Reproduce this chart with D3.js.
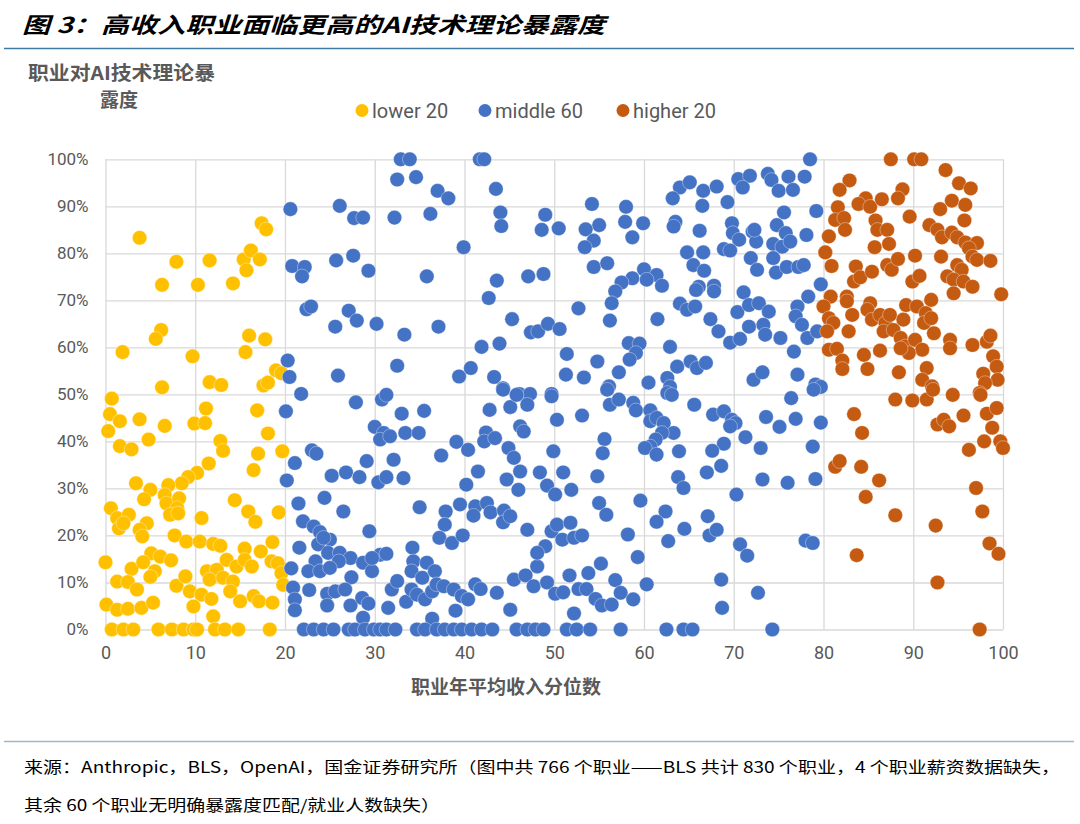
<!DOCTYPE html>
<html>
<head>
<meta charset="utf-8">
<script src="https://cdn.jsdelivr.net/npm/d3@7/dist/d3.min.js"></script>
<style>
  body { margin: 0; background: #fff; }
  svg { display: block; }
</style>
</head>
<body>
<svg id="chart" width="1080" height="824"></svg>
<script>
// income percentile, exposure (%)
var lower20 = [
  [3.8,83.3],[17.4,86.4],[17.9,85.1],[7.9,78.2],[11.6,78.5],[15.4,78.7],[16.2,80.6],[17.2,78.7],[15.7,76.4],
  [6.3,73.3],[10.3,73.3],[14.2,73.6],[6.2,63.7],[5.6,61.8],[1.9,59.0],[9.7,58.1],[16.0,62.5],[17.8,61.7],
  [15.6,59.0],[19.0,55.1],[19.6,54.5],[6.3,51.5],[11.6,52.6],[12.9,52.0],[17.6,51.9],[18.1,52.5],[0.7,49.1],
  [0.5,45.8],[1.6,44.3],[0.3,42.2],[3.8,44.7],[6.6,43.3],[11.2,47.0],[9.9,43.8],[11.1,43.9],[4.8,40.4],
  [1.6,39.0],[2.9,38.3],[12.8,40.1],[13.1,38.0],[16.9,46.6],[18.1,41.7],[17.0,37.4],[19.7,37.9],[16.5,33.9],
  [11.5,35.3],[10.2,33.3],[9.2,32.4],[8.5,31.1],[7.0,30.7],[3.4,31.1],[5.0,29.7],[4.3,27.7],[6.6,28.6],
  [6.8,26.8],[8.2,27.9],[8.0,25.8],[7.2,24.4],[8.1,24.7],[14.4,27.5],[0.6,25.8],[1.3,23.7],[2.6,24.4],
  [1.5,21.5],[2.0,22.6],[4.6,22.6],[3.8,21.2],[4.1,19.8],[10.7,23.7],[15.9,25.1],[16.7,22.9],[19.3,24.9],
  [7.7,20.0],[9.0,18.7],[10.5,18.7],[12.0,18.2],[12.8,17.8],[15.5,17.2],[17.3,16.6],[18.6,18.6],[0.0,14.3],
  [2.9,12.9],[5.1,16.2],[6.1,15.5],[4.2,14.3],[7.3,14.7],[5.5,12.4],[5.0,11.2],[11.3,12.4],[12.4,12.7],
  [13.5,14.8],[14.6,13.4],[15.5,14.8],[16.3,13.4],[11.6,10.6],[13.1,11.0],[14.2,10.2],[18.5,14.5],[19.2,14.1],
  [19.6,12.0],[19.8,9.5],[1.3,10.2],[2.5,10.1],[3.5,8.5],[7.9,9.3],[8.9,11.3],[9.4,8.1],[10.7,7.4],
  [11.8,6.5],[9.8,4.9],[13.9,8.1],[15.0,6.0],[16.5,7.1],[17.1,6.0],[18.6,5.7],[0.1,5.3],[1.3,4.2],
  [2.5,4.4],[4.0,4.6],[5.3,5.7],[12.0,2.8],
  [0.7,0],[2.0,0],[3.1,0],[5.9,0],[7.4,0],[8.7,0],[9.8,0],[10.2,0],[12.2,0],[13.3,0],[14.8,0],[18.3,0]
];

var middle60 = [
  [32.9,100],[33.9,100],[41.7,100],[42.2,100],[32.5,95.7],[34.6,96.2],[37.0,93.3],[38.2,91.7],[43.5,93.7],
  [20.6,89.4],[26.1,90.1],[27.7,87.5],[28.7,87.6],[32.2,87.6],[36.2,88.4],[44.0,88.7],[44.1,85.8],[49.0,88.2],
  [48.6,85.0],[50.5,85.3],[39.9,81.3],[20.8,77.3],[22.2,77.1],[21.9,75.1],[25.7,78.5],[27.6,79.5],[29.3,76.3],
  [35.8,75.1],[43.6,74.2],[42.7,70.5],[47.1,75.1],[48.8,75.6],[22.4,68.1],[22.9,68.7],[27.1,67.8],[28.0,65.7],
  [25.6,64.4],[30.2,65.0],[33.3,62.7],[37.1,64.4],[45.3,66.0],[47.4,63.2],[48.2,63.4],[49.3,65.0],[50.6,63.9],
  [41.9,60.1],[43.9,60.8],[20.3,57.2],[20.5,53.7],[25.9,54.0],[32.5,56.1],[39.4,53.8],[40.7,55.6],[43.3,53.7],
  [44.3,51.3],[46.1,50.1],[47.3,50.1],[49.7,50.1],[21.8,50.1],
  [27.9,48.3],[30.8,48.9],[31.3,49.9],[20.1,46.4],[33.0,45.9],[35.5,46.5],[30.0,43.1],[31.0,41.8],[30.6,40.4],
  [31.7,41.1],[33.4,41.8],[34.9,41.8],[21.1,35.4],[20.2,31.7],[23.0,38.1],[23.5,37.4],[25.2,32.7],[26.8,33.4],
  [28.3,32.4],[29.1,35.8],[32.1,36.1],[30.4,31.3],[31.3,32.4],[33.2,32.2],[37.4,37.0],[39.1,39.9],[40.4,38.2],
  [42.4,41.9],[42.2,40.0],[43.4,40.7],[42.8,46.7],[45.1,47.3],[44.3,51.0],[45.8,49.9],[47.0,47.8],[46.2,43.2],
  [46.6,42.1],[49.7,49.6],[50.3,44.6],[49.9,37.9],[44.9,38.6],[45.5,36.5],[41.5,33.6],[40.2,30.8],[44.7,31.9],
  [46.0,29.7],[46.2,33.6],[48.4,33.4],[49.2,30.6],[50.1,28.7],[21.5,26.8],[24.4,28.0],[26.5,25.1],[35.0,26.0],
  [37.9,25.1],[37.8,22.3],[39.5,26.6],[41.2,26.2],[42.5,26.9],[41.0,24.2],[42.9,24.9],[44.4,25.3],[44.3,22.8],
  [45.1,24.1],[47.0,21.2],[49.7,20.9],[50.3,22.3],[22.0,23.0],[23.2,21.9],[23.9,20.7],[25.0,19.1],[23.7,18.1],
  [24.3,19.5],[29.4,20.9],[21.6,17.4],[37.2,19.5],[38.6,18.4],[39.8,20.0],[24.8,16.3],[26.1,16.3],[27.3,15.2],
  [26.0,14.5],[23.4,14.5],[22.6,12.4],[23.9,12.4],[25.0,13.1],[20.7,13.0],[28.7,14.2],[29.7,12.4],[30.6,15.9],
  [31.3,16.1],[29.7,15.2],[27.4,11.1],[34.2,17.4],[34.3,14.5],[34.1,12.4],[35.3,11.0],[35.8,14.2],[36.7,12.4],
  [20.9,8.9],[21.1,6.4],[21.1,4.1],[22.7,8.4],[24.7,7.6],[25.6,8.1],[26.7,8.5],[24.7,5.1],[27.3,5.1],
  [28.6,6.7],[29.3,5.5],[28.7,2.5],[31.5,4.6],[31.9,8.5],[32.5,10.3],[33.5,5.9],[34.1,8.5],[34.7,7.4],
  [35.6,6.4],[36.4,8.1],[36.9,9.6],[37.7,9.2],[38.8,8.5],[39.7,7.1],[40.4,6.4],[41.2,9.6],[41.8,8.6],
  [43.6,7.8],[39.0,4.0],[36.4,2.3],[45.1,4.2],[45.5,10.6],[46.8,11.5],[47.7,9.2],[49.2,10.0],[50.1,7.6],
  [48.1,13.4],[49.0,17.7],[48.1,16.3],
  [22.1,0],[23.2,0],[24.3,0],[25.4,0],[27.1,0],[27.8,0],[28.9,0],[29.9,0],[30.6,0],[31.3,0],[32.3,0],[34.7,0],
  [35.6,0],[36.9,0],[37.8,0],[38.8,0],[39.7,0],[40.8,0],[41.9,0],[43.1,0],[45.8,0],[47.0,0],[47.9,0],[48.8,0],
  [78.5,100],[70.5,95.8],[71.8,96.5],[71.0,94.0],[73.8,96.9],[74.2,95.6],[75.0,93.3],[76.1,96.3],[76.6,93.5],
  [77.9,96.3],[64.0,94.0],[65.1,95.1],[63.2,91.7],[66.6,93.3],[68.1,94.2],[66.5,90.1],[69.3,90.9],[54.2,90.5],
  [58.0,89.9],[57.9,86.7],[59.9,86.4],[58.7,83.4],[55.0,86.0],[53.5,85.1],[54.4,82.7],[53.4,81.3],[75.6,88.7],
  [79.2,89.0],[63.5,86.7],[63.3,85.7],[66.2,84.8],[69.8,86.4],[69.9,84.3],[70.6,82.9],[68.9,80.9],[69.6,80.6],
  [72.1,84.6],[72.5,82.5],[72.3,85.0],[74.8,86.0],[75.8,84.3],[74.4,82.0],[75.4,81.4],[76.3,82.5],[78.1,83.9],
  [64.8,80.2],[66.6,80.2],[65.5,77.5],[66.7,76.3],[54.4,77.1],[55.9,77.9],[71.9,79.0],[72.6,76.5],[74.4,79.0],
  [74.7,75.9],[75.9,77.1],[77.2,77.1],[77.8,77.5],[60.0,76.6],[58.7,74.7],[57.5,73.8],[56.8,71.9],[56.4,69.4],
  [61.4,75.4],[62.0,73.1],[60.3,74.4],[66.1,72.9],[65.8,72.2],[67.8,73.1],[67.8,71.9],[79.7,73.4],[71.1,71.7],
  [52.7,68.3],[56.2,65.7],[61.5,66.0],[64.0,69.3],[64.8,68.0],[65.7,68.7],[67.4,66.0],[68.3,63.4],[69.6,61.0],
  [70.7,61.8],[70.4,67.5],[71.7,69.0],[72.8,69.4],[73.9,67.6],[71.7,64.4],[73.3,64.8],[73.5,62.7],[75.2,62.0],
  [77.1,68.7],[76.9,66.6],[77.6,64.8],[78.3,70.8],[78.2,62.0],[79.3,63.4],[76.7,59.1],[77.1,54.2],[79.1,52.1],
  [79.7,51.6],[72.2,53.1],[73.2,54.7],[51.4,58.6],[51.3,54.2],[53.3,53.6],[54.8,57.0],[56.1,51.7],[57.2,54.7],
  [58.3,60.9],[59.5,60.8],[59.1,58.8],[58.4,57.4],[62.9,60.1],[60.5,52.5],[63.7,55.9],[65.2,57.0],[65.9,55.6],
  [66.9,56.7],[62.6,53.5],[62.9,51.6],
  [53.1,45.5],[55.9,51.0],[56.2,47.8],[57.2,48.9],[58.8,48.2],[59.1,46.6],[60.7,46.6],[60.7,44.3],[61.4,45.0],
  [62.2,43.9],[63.3,41.8],[62.0,41.8],[61.3,40.4],[60.7,38.9],[60.1,38.6],[61.4,37.2],[62.6,50.3],[63.1,49.9],
  [65.6,47.8],[67.7,45.7],[68.9,46.4],[69.8,44.6],[70.2,43.9],[69.6,43.2],[71.3,40.9],[73.6,45.2],[75.1,43.1],
  [76.9,44.8],[76.4,49.2],[79.7,44.0],[78.9,51.0],[73.0,38.6],[78.8,38.9],[68.9,39.5],[67.6,38.0],[68.6,34.8],
  [67.0,33.4],[63.9,37.9],[55.6,40.5],[55.4,37.5],[51.0,33.4],[51.9,29.7],[54.8,32.6],[63.8,32.4],[64.4,30.1],
  [73.2,31.9],[76.0,31.2],[79.1,32.0],[70.3,28.7],[59.6,27.4],[55.0,26.9],[55.8,24.4],[62.4,25.1],[61.4,22.9],
  [64.5,21.4],[67.1,24.1],[67.3,20.0],[68.1,21.2],[62.7,18.8],[58.2,20.2],[59.3,15.4],[51.8,22.7],[50.9,19.1],
  [52.2,19.5],[53.1,20.0],[55.2,14.0],[53.8,12.0],[51.7,11.5],[56.8,10.5],[57.4,7.8],[58.8,6.4],[60.3,9.6],
  [52.7,8.6],[53.6,8.6],[51.0,7.9],[54.6,6.5],[55.3,5.1],[56.4,5.3],[52.2,3.4],[68.6,10.6],[68.7,4.6],
  [72.7,7.8],[70.7,18.1],[71.5,15.7],[78.0,18.9],[78.8,18.4],
  [51.4,0],[52.5,0],[54.0,0],[57.4,0],[62.5,0],[64.4,0],[65.4,0],[74.3,0]
];

var higher20 = [
  [87.5,100],[90.1,100],[90.9,100],[93.6,97.7],[82.9,95.5],[81.8,93.5],[95.1,94.9],[96.4,93.8],[88.8,93.6],
  [88.3,91.7],[84.7,91.7],[83.9,90.5],[85.2,89.9],[86.5,91.5],[94.3,91.2],[95.8,90.3],[93.0,89.4],[81.6,89.8],
  [81.3,87.1],[82.3,87.5],[82.4,85.0],[80.6,83.6],[89.6,87.8],[85.8,87.0],[86.0,85.0],[87.1,85.0],[87.3,82.0],
  [85.7,81.3],[95.7,87.0],[91.8,86.0],[92.7,85.0],[93.2,83.4],[94.3,84.4],[94.9,83.4],[95.8,82.3],[97.1,82.2],
  [96.2,81.1],[80.2,80.2],[80.9,77.3],[90.2,79.5],[93.1,79.3],[96.6,79.3],[97.1,78.6],[98.6,78.4],[87.1,77.5],
  [87.6,76.5],[88.3,78.8],[83.6,77.2],[83.4,74.0],[84.1,74.9],[85.4,76.1],[89.9,74.0],[90.7,75.2],[93.8,75.1],
  [94.9,77.5],[95.4,76.5],[94.5,74.4],[95.6,74.0],[96.6,72.9],[94.5,71.5],[99.8,71.3],[80.8,70.8],[82.6,70.8],
  [82.6,69.8],[85.2,69.4],[84.9,68.0],[80.0,68.7],[80.6,66.2],[81.1,65.2],[80.4,63.4],[83.2,66.9],[82.8,63.4],
  [85.4,65.9],[86.3,66.9],[86.9,65.2],[87.4,66.9],[86.7,63.4],[87.8,63.7],[88.9,65.9],[89.2,69.0],[90.4,68.7],
  [91.4,67.3],[91.2,65.2],[92.0,66.2],[92.0,70.1],[92.3,63.0],[88.6,62.0],[89.1,60.2],[90.2,61.6],[91.0,59.5],
  [89.5,58.8],[88.6,59.8],[94.1,61.6],[94.1,59.8],[96.6,60.5],[98.2,61.2],[98.6,62.5],[80.6,59.5],[81.5,59.7],
  [82.1,57.2],[82.1,55.4],[84.5,58.4],[84.9,55.4],[86.3,59.3],[88.4,54.7],[91.5,55.6],[91.0,53.1],[92.1,51.7],
  [98.9,58.1],[99.3,55.9],[97.8,54.4],[99.4,53.1],[98.0,52.4],[97.4,50.3],
  [88.0,48.9],[89.9,48.7],[91.5,48.9],[92.2,51.0],[94.4,49.9],[97.5,49.9],[83.4,45.8],[84.3,41.8],[92.7,43.6],
  [93.4,44.6],[94.0,43.2],[95.6,45.5],[98.2,45.9],[99.3,47.1],[98.8,42.9],[97.9,40.0],[96.2,38.2],[99.7,40.0],
  [100.0,38.6],[81.3,34.6],[81.8,35.8],[84.2,34.6],[86.2,31.7],[84.7,28.2],[88.0,24.3],[92.5,22.1],[97.0,30.1],
  [97.7,25.1],[98.5,18.3],[99.5,16.1],[83.7,15.8],[92.7,10.0],[97.4,0]
];

var seriesNames = ["lower 20", "middle 60", "higher 20"];
var seriesColors = ["#FFC000", "#4472C4", "#C55A11"];
var xTicks = [0, 10, 20, 30, 40, 50, 60, 70, 80, 90, 100];
var yTicks = [0, 0.1, 0.2, 0.3, 0.4, 0.5, 0.6, 0.7, 0.8, 0.9, 1];

var svg = d3.select("#chart");
var plotLeft = 105.5, plotRight = 1003, plotTop = 159.3, plotBottom = 629.5;
var numFont = "Roboto, 'Noto Sans', 'Noto Sans CJK SC', sans-serif";
var cjkFont = "'Noto Sans CJK SC', sans-serif";

var x = d3.scaleLinear().domain([0, 100]).range([plotLeft, plotRight]);
var y = d3.scaleLinear().domain([0, 1]).range([plotBottom, plotTop]);

// title
svg.append("text")
    .attr("x", 22)
    .attr("y", 33)
    .attr("font-family", cjkFont)
    .attr("font-size", 22)
    .attr("font-weight", 700)
    .attr("font-style", "italic")
    .attr("fill", "#000")
    .attr("textLength", 583)
    .attr("lengthAdjust", "spacingAndGlyphs")
    .text("图 3：高收入职业面临更高的AI技术理论暴露度");

svg.append("line")
    .attr("x1", 4).attr("x2", 1074)
    .attr("y1", 48.5).attr("y2", 48.5)
    .attr("stroke", "#3f7aa6")
    .attr("stroke-width", 1.5);

// gridlines
var grid = svg.append("g");

grid.append("g")
    .attr("transform", "translate(0," + plotBottom + ")")
    .call(d3.axisBottom(x).tickValues(xTicks).tickSize(-(plotBottom - plotTop)).tickFormat(""))
    .call(function (s) { s.select(".domain").remove(); })
    .selectAll("line")
    .attr("stroke", "#d9d9d9")
    .attr("stroke-width", 1.3);

grid.append("g")
    .attr("transform", "translate(" + plotLeft + ",0)")
    .call(d3.axisLeft(y).tickValues(yTicks).tickSize(-(plotRight - plotLeft)).tickFormat(""))
    .call(function (s) { s.select(".domain").remove(); })
    .selectAll("line")
    .attr("stroke", "#d9d9d9")
    .attr("stroke-width", 1.3);

// tick labels
var xAxis = svg.append("g")
    .attr("transform", "translate(0," + plotBottom + ")")
    .call(d3.axisBottom(x).tickValues(xTicks).tickSize(0).tickPadding(17));
xAxis.select(".domain").remove();
xAxis.selectAll("text")
    .attr("font-family", numFont)
    .attr("font-size", 18)
    .attr("fill", "#595959");

var yAxis = svg.append("g")
    .attr("transform", "translate(" + plotLeft + ",0)")
    .call(d3.axisLeft(y).tickValues(yTicks).tickSize(0).tickPadding(17).tickFormat(d3.format(".0%")));
yAxis.select(".domain").remove();
yAxis.selectAll("text")
    .attr("font-family", numFont)
    .attr("font-size", 17)
    .attr("fill", "#595959");

// axis titles
svg.append("text")
    .attr("x", 28)
    .attr("y", 80)
    .attr("font-family", cjkFont)
    .attr("font-size", 19)
    .attr("font-weight", 700)
    .attr("fill", "#595959")
    .attr("textLength", 187)
    .attr("lengthAdjust", "spacingAndGlyphs")
    .text("职业对AI技术理论暴");

svg.append("text")
    .attr("x", 100)
    .attr("y", 107)
    .attr("font-family", cjkFont)
    .attr("font-size", 19)
    .attr("font-weight", 700)
    .attr("fill", "#595959")
    .text("露度");

svg.append("text")
    .attr("x", 506)
    .attr("y", 694)
    .attr("text-anchor", "middle")
    .attr("font-family", cjkFont)
    .attr("font-size", 19)
    .attr("font-weight", 700)
    .attr("fill", "#595959")
    .text("职业年平均收入分位数");

// points
var series = [lower20, middle60, higher20];
series.forEach(function (pts, i) {
    svg.append("g")
        .selectAll("circle")
        .data(pts)
        .enter()
        .append("circle")
        .attr("cx", function (d) { return x(d[0]); })
        .attr("cy", function (d) { return y(d[1] / 100); })
        .attr("r", 7.3)
        .attr("fill", seriesColors[i])
        .attr("stroke", "#fff")
        .attr("stroke-width", 0.6)
        .attr("stroke-opacity", 0.6);
});

// legend
var legendX = [362, 485, 623];
var legend = svg.append("g")
    .selectAll("g")
    .data(seriesNames)
    .enter()
    .append("g")
    .attr("transform", function (d, i) { return "translate(" + legendX[i] + ",110.5)"; });

legend.append("circle")
    .attr("r", 6.5)
    .attr("fill", function (d, i) { return seriesColors[i]; });

legend.append("text")
    .attr("x", 10)
    .attr("dy", "0.35em")
    .attr("font-family", numFont)
    .attr("font-size", 20)
    .attr("fill", "#595959")
    .text(function (d) { return d; });

// source note
svg.append("line")
    .attr("x1", 4).attr("x2", 1074)
    .attr("y1", 741.5).attr("y2", 741.5)
    .attr("stroke", "#9db8cc")
    .attr("stroke-width", 1.5);

var noteFont = "'Noto Sans CJK SC', 'DejaVu Sans Mono', monospace";
svg.append("text")
    .attr("x", 24)
    .attr("y", 773)
    .attr("font-family", noteFont)
    .attr("font-size", 15.5)
    .attr("fill", "#000")
    .attr("textLength", 1036)
    .attr("lengthAdjust", "spacingAndGlyphs")
    .text("来源：Anthropic，BLS，OpenAI，国金证券研究所（图中共 766 个职业——BLS 共计 830 个职业，4 个职业薪资数据缺失，");

svg.append("text")
    .attr("x", 24)
    .attr("y", 811)
    .attr("font-family", noteFont)
    .attr("font-size", 15.5)
    .attr("fill", "#000")
    .attr("textLength", 416)
    .attr("lengthAdjust", "spacingAndGlyphs")
    .text("其余 60 个职业无明确暴露度匹配/就业人数缺失）");
</script>
</body>
</html>
